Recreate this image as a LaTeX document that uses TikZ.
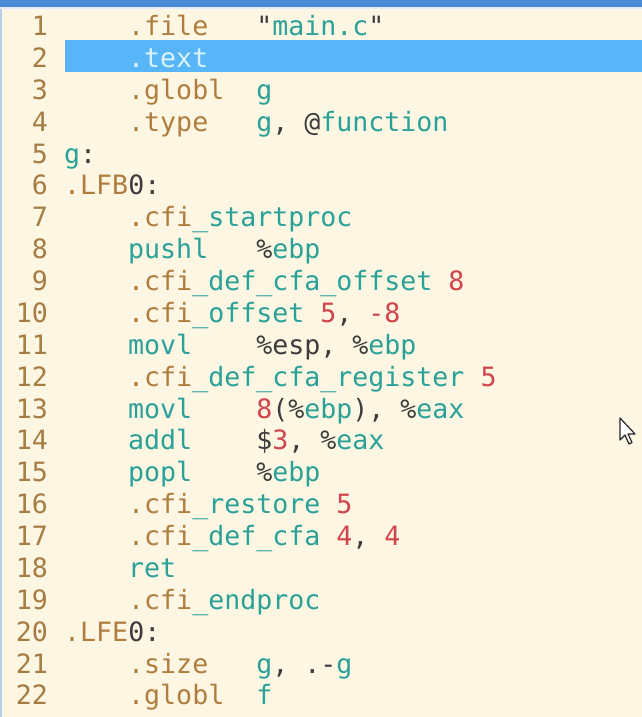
\documentclass[tikz,border=0pt]{standalone}
\usepackage{fontspec}
\newfontfamily\asmfont{DejaVu Sans Mono}
\definecolor{editorbg}{HTML}{FDF6E3}
\definecolor{titlebar}{HTML}{4A8AD6}
\definecolor{selline}{HTML}{58B6F8}
\definecolor{seltext}{HTML}{D8F4F8}
\definecolor{gutternum}{HTML}{A67C42}
\definecolor{asmbrown}{HTML}{B07D3E}
\definecolor{asmteal}{HTML}{2AA198}
\definecolor{asmred}{HTML}{D0444A}
\definecolor{asmplain}{HTML}{3C3C3C}
\newcommand{\asmdir}[1]{\textcolor{asmbrown}{#1}}
\newcommand{\asmid}[1]{\textcolor{asmteal}{#1}}
\newcommand{\asmval}[1]{\textcolor{asmred}{#1}}
\newcommand{\rowy}[1]{3.62+31.88*#1}

\begin{document}
\frenchspacing
\begin{tikzpicture}[x=1pt,y=-1pt,
  lnum/.style={anchor=base east,inner sep=0pt,text=gutternum,
    font=\asmfont\fontsize{26.6}{32}\selectfont},
  asm/.style={anchor=base west,inner sep=0pt,text=asmplain,
    font=\asmfont\fontsize{26.6}{32}\selectfont}]
\useasboundingbox (0,0) rectangle (642,717);
\fill[editorbg] (0,0) rectangle (642,717);
\fill[titlebar] (0,0) rectangle (642,7);
\fill[titlebar!15] (0,7) rectangle (642,9);
\fill[titlebar!40] (0,9) rectangle (2,717);
\fill[selline] (65,40) rectangle (642,72);
% line numbers
\foreach \k in {1,...,22}
  \node[lnum] (n\k) at (48,{\rowy{\k}}) {\k};
% code
\node[asm] (c1) at (128,{\rowy{1}}) {\asmdir{.file}~~~"\asmid{main.c}"};
\node[asm,text=seltext] (c2) at (128,{\rowy{2}}) {.text};
\node[asm] (c3) at (128,{\rowy{3}}) {\asmdir{.globl}~~\asmid{g}};
\node[asm] (c4) at (128,{\rowy{4}}) {\asmdir{.type}~~~\asmid{g}, @\asmid{function}};
\node[asm] (c5) at (64,{\rowy{5}}) {\asmid{g}:};
\node[asm] (c6) at (64,{\rowy{6}}) {\asmdir{.LFB}0:};
\node[asm] (c7) at (128,{\rowy{7}}) {\asmdir{.cfi}\asmid{\_startproc}};
\node[asm] (c8) at (128,{\rowy{8}}) {\asmid{pushl}~~~\%\asmid{ebp}};
\node[asm] (c9) at (128,{\rowy{9}}) {\asmdir{.cfi}\asmid{\_def\_cfa\_offset} \asmval{8}};
\node[asm] (c10) at (128,{\rowy{10}}) {\asmdir{.cfi}\asmid{\_offset} \asmval{5}, \asmval{-8}};
\node[asm] (c11) at (128,{\rowy{11}}) {\asmid{movl}~~~~\%esp, \%\asmid{ebp}};
\node[asm] (c12) at (128,{\rowy{12}}) {\asmdir{.cfi}\asmid{\_def\_cfa\_register} \asmval{5}};
\node[asm] (c13) at (128,{\rowy{13}}) {\asmid{movl}~~~~\asmval{8}(\%\asmid{ebp}), \%\asmid{eax}};
\node[asm] (c14) at (128,{\rowy{14}}) {\asmid{addl}~~~~\$\asmval{3}, \%\asmid{eax}};
\node[asm] (c15) at (128,{\rowy{15}}) {\asmid{popl}~~~~\%\asmid{ebp}};
\node[asm] (c16) at (128,{\rowy{16}}) {\asmdir{.cfi}\asmid{\_restore} \asmval{5}};
\node[asm] (c17) at (128,{\rowy{17}}) {\asmdir{.cfi}\asmid{\_def\_cfa} \asmval{4}, \asmval{4}};
\node[asm] (c18) at (128,{\rowy{18}}) {\asmid{ret}};
\node[asm] (c19) at (128,{\rowy{19}}) {\asmdir{.cfi}\asmid{\_endproc}};
\node[asm] (c20) at (64,{\rowy{20}}) {\asmdir{.LFE}0:};
\node[asm] (c21) at (128,{\rowy{21}}) {\asmdir{.size}~~~\asmid{g}, .-\asmid{g}};
\node[asm] (c22) at (128,{\rowy{22}}) {\asmdir{.globl}~~\asmid{f}};
% mouse pointer
\filldraw[fill=white,draw=black!85,line width=1.2pt,line join=round]
  (620,418) -- ++(0,22) -- ++(5,-5) -- ++(4,9) -- ++(3,-1.5)
  -- ++(-4,-8.5) -- ++(7,0) -- cycle;
\end{tikzpicture}
\end{document}
